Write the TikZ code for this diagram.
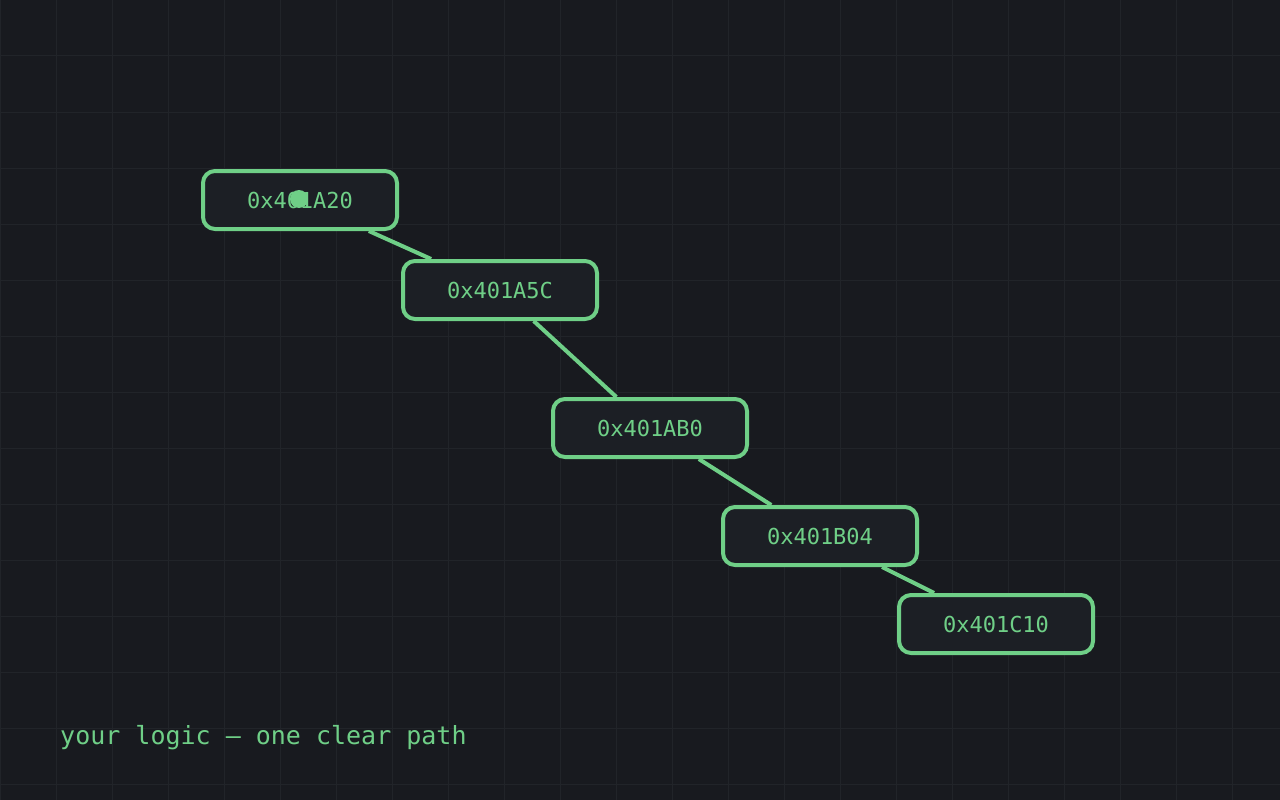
\documentclass[tikz,border=0pt]{standalone}
\usepackage{fontspec}
\setmonofont{DejaVu Sans Mono}
\usepackage{tikz}
\usetikzlibrary{positioning}
\definecolor{figbg}{HTML}{181A1F}
\definecolor{figgrid}{HTML}{212429}
\definecolor{figfill}{HTML}{1C1F25}
\definecolor{figgreen}{HTML}{6FCF87}
\tikzset{
  addrbox/.style={draw=figgreen, fill=figfill, line width=4pt, rounded corners=12pt,
    minimum width=194pt, minimum height=58pt, inner sep=0pt, text=figgreen,
    font=\ttfamily\fontsize{22}{26}\selectfont},
  pathline/.style={draw=figgreen, line width=4pt},
  gridline/.style={draw=figgrid, line width=1pt},
  markdot/.style={circle, fill=figgreen, minimum size=18pt, inner sep=0pt},
  caption/.style={text=figgreen, inner sep=0pt, font=\ttfamily\fontsize{25}{30}\selectfont},
}

\begin{document}
\begin{tikzpicture}[x=1pt, y=-1pt]
  \useasboundingbox (0,0) rectangle (1280,800);
  \fill[figbg] (0,0) rectangle (1280,800);
  \foreach \gx in {0,56,...,1280} \draw[gridline] (\gx,0) -- (\gx,800);
  \foreach \gy in {0,56,...,800} \draw[gridline] (0,\gy) -- (1280,\gy);
  \node[addrbox] (n1) at (300,200) {0x401A20};
  \node[addrbox, below right=28pt and 2pt of n1] (n2) {0x401A5C};
  \node[addrbox, below right=76pt and -48pt of n2] (n3) {0x401AB0};
  \node[addrbox, below right=46pt and -28pt of n3] (n4) {0x401B04};
  \node[addrbox, below right=26pt and -22pt of n4] (n5) {0x401C10};
  \draw[pathline] (n1) -- (n2);
  \draw[pathline] (n2) -- (n3);
  \draw[pathline] (n3) -- (n4);
  \draw[pathline] (n4) -- (n5);
  \node[markdot] (cursor) at ([shift={(-1,-1)}]n1.center) {};
  \node[caption, anchor=base west] (tagline) at (60,744) {your logic — one clear path};
\end{tikzpicture}
\end{document}
